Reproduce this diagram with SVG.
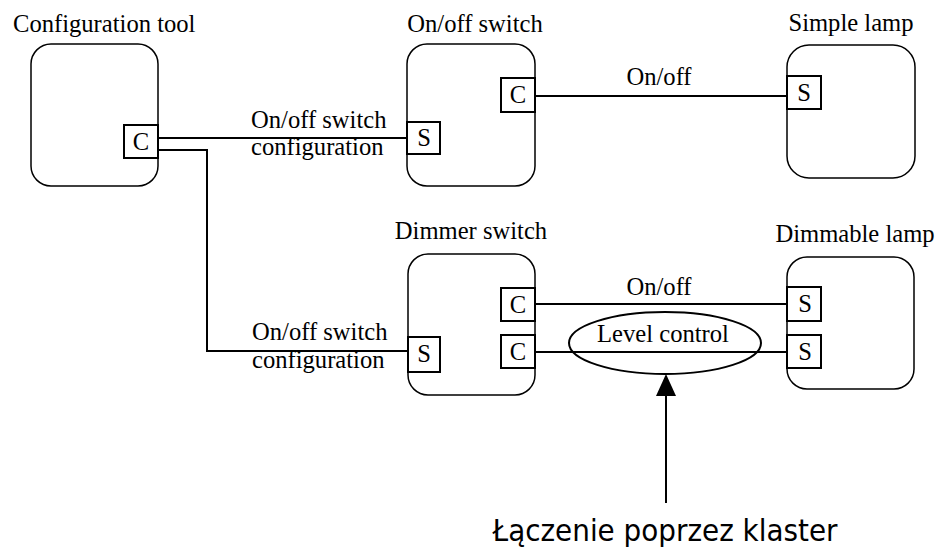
<svg xmlns="http://www.w3.org/2000/svg" width="938" height="552" viewBox="0 0 938 552">
<style>
.box{fill:#fff;stroke:#000;stroke-width:1.5}
.port{fill:#fff;stroke:#000;stroke-width:2}
.t{font-family:"Liberation Serif","Times New Roman",serif;font-size:24.6px;fill:#000}
.m{text-anchor:middle}
.w{fill:none;stroke:#000;stroke-width:2}
</style>
<rect width="938" height="552" fill="#fff"/>
<g id="connectors">
<path class="w" d="M158,138 H408"/>
<path class="w" d="M158,150 H207 V351 H408"/>
<path class="w" d="M535,96 H790"/>
<path class="w" d="M535,304 H787"/>
<path class="w" d="M535,352 H787"/>
<path class="w" d="M666,503 V396"/>
<path d="M656,396 L666,374 L676,396 Z" fill="#000"/>
</g>
<g id="config-tool">
<text class="t" x="13" y="32">Configuration tool</text>
<rect class="box" x="31" y="44" width="127" height="142" rx="20"/>
<rect class="port" x="124" y="125" width="34" height="33"/>
<text class="t m" x="141" y="150">C</text>
</g>
<g id="onoff-switch">
<text class="t m" x="475" y="32">On/off switch</text>
<rect class="box" x="407" y="44" width="128" height="142" rx="20"/>
<rect class="port" x="407" y="122" width="33" height="32"/>
<text class="t m" x="424" y="146">S</text>
<rect class="port" x="501" y="78" width="34" height="34"/>
<text class="t m" x="518" y="103">C</text>
</g>
<g id="simple-lamp">
<text class="t m" x="851" y="31">Simple lamp</text>
<rect class="box" x="787" y="45" width="128" height="133" rx="22"/>
<rect class="port" x="787" y="76" width="34" height="33"/>
<text class="t m" x="804" y="101">S</text>
</g>
<g id="dimmer-switch">
<text class="t m" x="471" y="239">Dimmer switch</text>
<rect class="box" x="408" y="254" width="127" height="141" rx="20"/>
<rect class="port" x="408" y="337" width="32" height="35"/>
<text class="t m" x="424" y="362">S</text>
<rect class="port" x="501" y="288" width="34" height="33"/>
<text class="t m" x="518" y="313">C</text>
<rect class="port" x="501" y="335" width="34" height="33"/>
<text class="t m" x="518" y="360">C</text>
</g>
<g id="dimmable-lamp">
<text class="t m" x="855" y="242">Dimmable lamp</text>
<rect class="box" x="787" y="257" width="127" height="132" rx="20"/>
<rect class="port" x="787" y="287" width="34" height="34"/>
<text class="t m" x="805" y="312">S</text>
<rect class="port" x="787" y="335" width="34" height="33"/>
<text class="t m" x="805" y="360">S</text>
</g>
<g id="labels">
<text class="t" x="251" y="128">On/off switch</text>
<text class="t" x="251" y="155">configuration</text>
<text class="t" x="252" y="340">On/off switch</text>
<text class="t" x="252" y="368">configuration</text>
<text class="t m" x="659" y="85">On/off</text>
<text class="t m" x="659" y="295">On/off</text>
</g>
<g id="level-control">
<ellipse cx="665" cy="343" rx="96" ry="31" fill="none" stroke="#000" stroke-width="2"/>
<text class="t m" x="663" y="342">Level control</text>
</g>
<g id="cluster-note">
<text x="665" y="541" text-anchor="middle" font-family="DejaVu Sans, sans-serif" font-size="30" textLength="345" lengthAdjust="spacingAndGlyphs">Łączenie poprzez klaster</text>
</g>
</svg>
